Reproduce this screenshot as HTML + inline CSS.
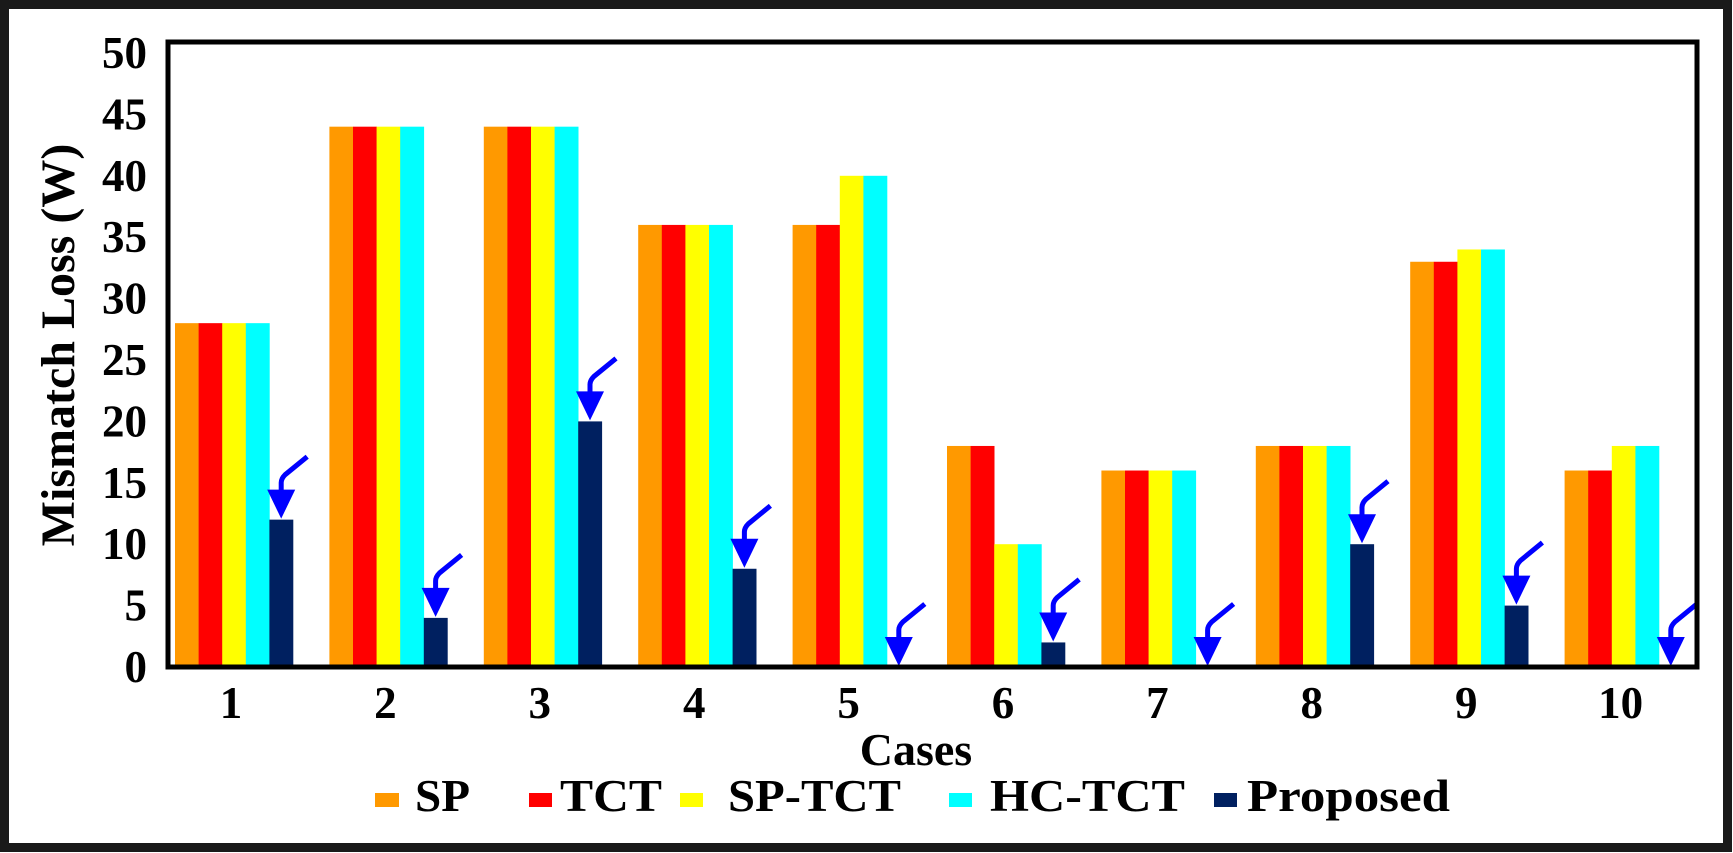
<!DOCTYPE html>
<html><head><meta charset="utf-8"><style>html,body{margin:0;padding:0;background:#fff}svg{display:block}</style></head>
<body>
<svg id="c" width="1733" height="853" xmlns="http://www.w3.org/2000/svg" font-family="Liberation Serif, serif" font-weight="bold">
<rect x="4.5" y="4.5" width="1723" height="843" fill="#fff" stroke="#1a1a1a" stroke-width="9"/>
<g id="bars"></g>
<rect x="168" y="42" width="1529" height="625" fill="none" stroke="#000" stroke-width="5"/>
<g font-size="45" text-anchor="end" id="yt"></g>
<g font-size="45" text-anchor="middle" id="xt"></g>
<text transform="translate(74,345) rotate(-90)" font-size="48" text-anchor="middle">Mismatch Loss (W)</text>
<text x="916" y="765" font-size="46" text-anchor="middle">Cases</text>
<g font-size="45">
<rect x="375" y="793" width="24" height="14" fill="#FF9900"/><text x="415" y="811" textLength="55" lengthAdjust="spacingAndGlyphs">SP</text>
<rect x="529" y="793" width="23" height="14" fill="#FF0000"/><text x="560" y="811" textLength="102" lengthAdjust="spacingAndGlyphs">TCT</text>
<rect x="680" y="793" width="23" height="14" fill="#FFFF00"/><text x="728" y="811" textLength="173" lengthAdjust="spacingAndGlyphs">SP-TCT</text>
<rect x="949" y="793" width="23" height="14" fill="#00FFFF"/><text x="990" y="811" textLength="195" lengthAdjust="spacingAndGlyphs">HC-TCT</text>
<rect x="1214" y="793" width="23" height="14" fill="#002060"/><text x="1247" y="811" textLength="203" lengthAdjust="spacingAndGlyphs">Proposed</text>
</g>
</svg>
<script>
const d=[[28,28,28,28,12],[44,44,44,44,4],[44,44,44,44,20],[36,36,36,36,8],[36,36,40,40,0],[18,18,10,10,2],[16,16,16,16,0],[18,18,18,18,10],[33,33,34,34,5],[16,16,18,18,0]];
const col=["#FF9900","#FF0000","#FFFF00","#00FFFF","#002060"];
const y0=667,s=12.28,bw=23.6;let h="";
d.forEach((g,i)=>{const gx=175+i*154.4;g.forEach((v,j)=>{const x=gx+j*bw;h+=`<rect x="${x}" y="${y0-v*s}" width="${bw+0.3}" height="${v*s}" fill="${col[j]}"/>`;});
const cx=gx+4*bw+bw/2,ty=y0-g[4]*s-1;
h+=`<path d="M${cx},${ty-26} L${cx},${ty-36} Q${cx},${ty-40} ${cx+4},${ty-44} L${cx+26},${ty-62}" fill="none" stroke="#0000FF" stroke-width="5"/>`;
h+=`<polygon points="${cx-14},${ty-29} ${cx+14},${ty-29} ${cx},${ty}" fill="#0000FF"/>`;});
document.getElementById("bars").innerHTML=h;
let t="";for(let k=0;k<=10;k++){t+=`<text x="147" y="${y0-k*5*s+15}">${k*5}</text>`;}
document.getElementById("yt").innerHTML=t;
let x="";for(let i=0;i<10;i++){x+=`<text x="${175+i*154.4+56}" y="718">${i+1}</text>`;}
document.getElementById("xt").innerHTML=x;
</script>
</body></html>
